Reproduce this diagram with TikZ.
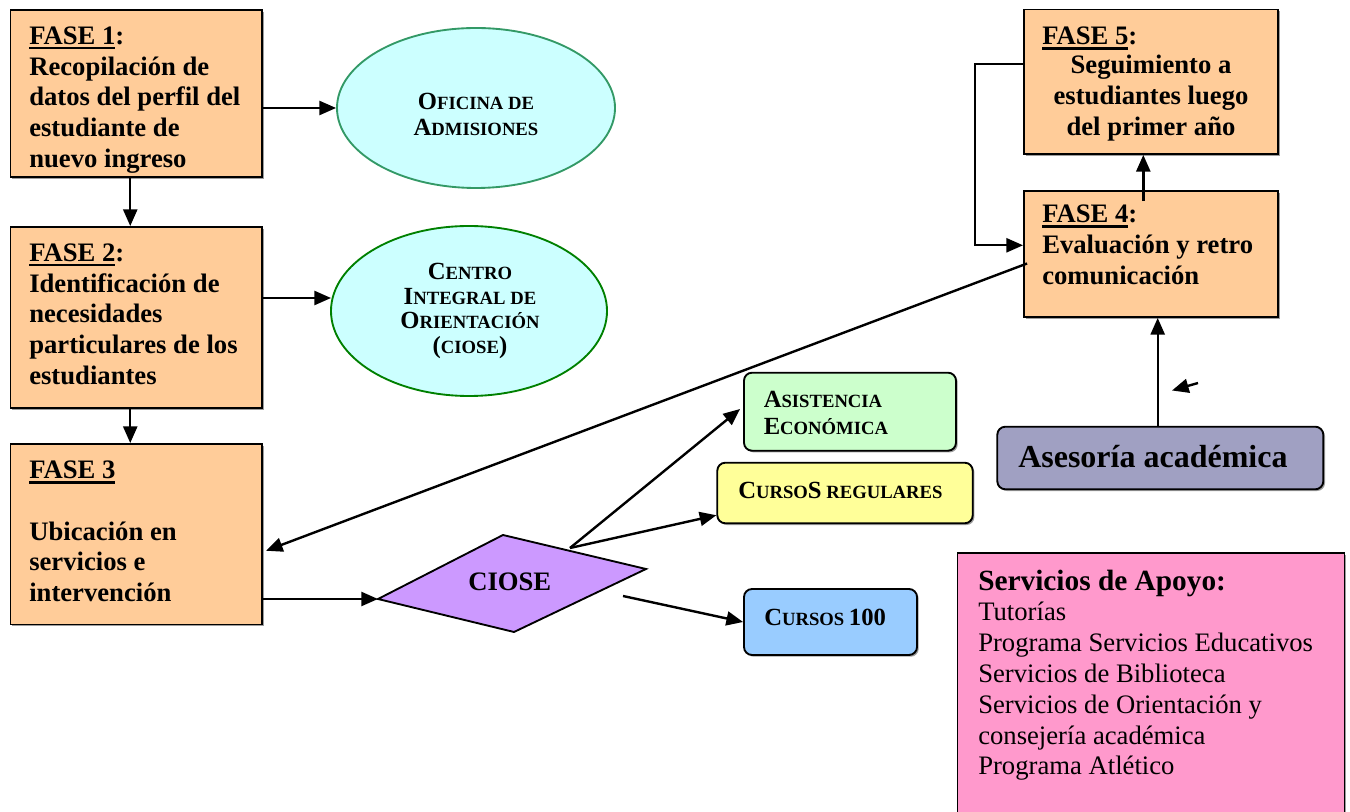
\documentclass[tikz,border=0pt]{standalone}
\usepackage{fontspec}
\setmainfont{Liberation Serif}
\usetikzlibrary{arrows.meta,shadows,fit,shapes.geometric,calc}
\definecolor{phasefill}{HTML}{FFCC99}
\definecolor{cyanfill}{HTML}{CCFFFF}
\definecolor{eoneborder}{HTML}{339966}
\definecolor{etwoborder}{HTML}{008000}
\definecolor{diafill}{HTML}{CC99FF}
\definecolor{greenfill}{HTML}{CCFFCC}
\definecolor{yellowfill}{HTML}{FFFF99}
\definecolor{bluefill}{HTML}{99CCFF}
\definecolor{grayblue}{HTML}{A0A0C2}
\definecolor{pinkfill}{HTML}{FF99CC}
\newcommand\BC[1]{{\fontsize{18.5}{20}\selectfont #1}}
\newcommand\ulx[1]{\setbox0\hbox{#1}\rlap{\rule[-3.7pt]{\wd0}{1.9pt}}\box0}
\begin{document}
\begin{tikzpicture}[x=0.75pt,y=-0.75pt,
  arr/.style={line width=1.8pt,-{Triangle[length=12.5pt,width=10.5pt]}},
  shad/.style={drop shadow={shadow xshift=1.3pt,shadow yshift=-1.3pt,fill=black!55,opacity=0.7}},
  phasebox/.style={draw=black,line width=1.4pt,fill=phasefill,inner sep=0pt,shad},
  rbox/.style={draw=black,line width=1.4pt,rounded corners=6pt,inner sep=0pt,shad},
  ell/.style={ellipse,line width=1.4pt,fill=cyanfill,inner sep=0pt},
  bodyt/.style={inner sep=0pt,font=\fontsize{20}{23}\selectfont\bfseries,align=left},
  sct/.style={inner sep=0pt,font=\fontsize{14}{20}\selectfont\bfseries},
]
\clip (0,0) rectangle (1350,812);
\useasboundingbox (0,0) rectangle (1350,812);

% phase boxes
\node[phasebox,fit={(10.5,10) (262,177)}] (f1) {};
\node[phasebox,fit={(10.5,227) (262,408)}] (f2) {};
\node[phasebox,fit={(10.5,444) (262,624.5)}] (f3) {};
\node[phasebox,fit={(1024,191) (1278,317)}] (f4) {};
\node[phasebox,fit={(1024,9.5) (1278,154)}] (f5) {};

% phase texts
\node[bodyt,anchor=north west] (t1) at (29,26.5) {\ulx{FASE 1}:\\Recopilación de\\datos del perfil del\\estudiante de\\nuevo ingreso};
\node[bodyt,anchor=north west] (t2) at (29,243.5) {\ulx{FASE 2}:\\Identificación de\\necesidades\\particulares de los\\estudiantes};
\node[bodyt,anchor=north west] (t3) at (29,461) {\ulx{FASE 3}\\[23pt]Ubicación en\\servicios e\\intervención};
\node[bodyt,anchor=north west] (t4) at (1042,205) {\ulx{FASE 4}:\\Evaluación y retro\\comunicación};
\node[bodyt,anchor=north west] (t5a) at (1042,26.7) {\ulx{FASE 5}:};
\node[bodyt,align=center,anchor=north] (t5b) at (1151,55) {Seguimiento a\\estudiantes luego\\del primer año};

% ellipses
\node[ell,draw=eoneborder,minimum width=208.5pt,minimum height=120pt] (e1) at (476,108) {};
\node[ell,draw=etwoborder,minimum width=207pt,minimum height=127.5pt] (e2) at (469,311) {};
\node[sct,align=center,anchor=north] (e1t) at (476,92.5) {\BC{O}FICINA DE\\\BC{A}DMISIONES};
\node[sct,align=center,anchor=north,font=\fontsize{14}{18.3}\selectfont\bfseries] (e2t) at (470,263.3) {\BC{C}ENTRO\\\BC{I}NTEGRAL DE\\\BC{O}RIENTACIÓN\\\BC{(}CIOSE\BC{)}};

% diamond
\coordinate (dl) at (378,599);
\coordinate (dt) at (503,535);
\coordinate (dr) at (646,569);
\coordinate (db) at (514,632);
\draw[line width=1.4pt,fill=diafill] (dl) -- (dt) -- (dr) -- (db) -- cycle;
\node[inner sep=0pt,anchor=base west,font=\fontsize{20}{23}\selectfont\bfseries] (dtext) at (468,590) {CIOSE};
\coordinate (d1) at (570,548);
\coordinate (d2) at (623,596);

% service boxes
\node[rbox,fill=greenfill,fit={(744,372.7) (956,450.7)}] (asis) {};
\node[sct,align=left,anchor=north west,font=\fontsize{14}{20.7}\selectfont\bfseries] (asist) at (763.5,390.7) {\BC{A}SISTENCIA\\\BC{E}CONÓMICA};
\node[rbox,fill=yellowfill,fit={(717.3,462.7) (972.7,523.3)}] (creg) {};
\node[sct,anchor=base west] (cregt) at (738,498.3) {\BC{C}URSO\BC{S} REGULARES};
\node[rbox,fill=bluefill,fit={(744,589) (917,655)}] (c100) {};
\node[sct,anchor=base west] (c100t) at (764,625) {\BC{C}URSOS \BC{100}};

\node[rbox,fill=grayblue,fit={(997.3,426.7) (1323.3,489.3)}] (ases) {};
\node[inner sep=0pt,anchor=base west,font=\fontsize{24}{28}\selectfont\bfseries] (asest) at (1018,467.3) {Asesoría académica};

\node[draw=black,line width=1.4pt,fill=pinkfill,inner sep=0pt,shad,fit={(957.5,553) (1344.5,830)}] (serv) {};
\node[inner sep=0pt,anchor=north west,align=left,font=\fontsize{20}{23.1}\selectfont] (servt) at (978,569.5) {{\fontsize{22}{23.1}\selectfont\bfseries Servicios de Apoyo:}\\Tutorías\\Programa Servicios Educativos\\Servicios de Biblioteca\\Servicios de Orientación y\\consejería académica\\Programa Atlético};

% connectors
\draw[arr] (f1.east |- e1.west) -- (e1.west);
\draw[arr] ($(f2.east)+(0,-19.5)$) -- ($(e2.west)+(1,-13)$);
\draw[arr] ([xshift=-4.5pt]f1.south) -- ([xshift=-4.5pt]f2.north);
\draw[arr] ([xshift=-4.5pt]f2.south) -- ([xshift=-4.5pt]f3.north);
\draw[arr] (f3.east |- dl) -- (dl);
\draw[arr] (d1) -- ($(asis.west)+(-3,-2.7)$);
\draw[arr] (d1) -- ($(creg.south west)+(0,-9)$);
\draw[arr] (d2) -- (c100.west);
\draw[arr] ($(f4.west)+(4,9.5)$) -- ($(f3.east)+(3,16.5)$);
\draw[arr] ($(f5.west)+(0,-17.7)$) -- ++(-48,0) |- ($(f4.west)+(0,-8.7)$);
\draw[arr] ($(f4.north)+(-7.7,11)$) -- (f5.south -| {$(f4.north)+(-7.7,0)$});
\draw[arr] ($(ases.north)+(-2.6,0)$) -- ($(f4.south)+(6.7,0)$);
\coordinate (sa) at (1198,383);
\draw[arr] (sa) -- ++(-26,7.5);
\end{tikzpicture}
\end{document}
